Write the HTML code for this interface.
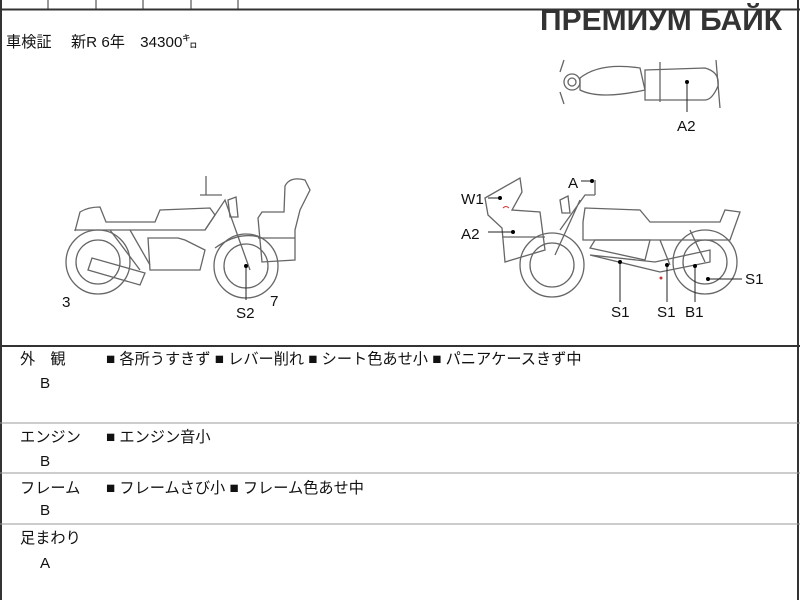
<!DOCTYPE html>
<html><head><meta charset="utf-8"><style>
html,body{margin:0;padding:0;background:#fff;}
body{width:800px;height:600px;position:relative;overflow:hidden;font-family:"Liberation Sans","Noto Sans CJK JP",sans-serif;color:#111;}
.t{position:absolute;font-size:15.2px;white-space:nowrap;line-height:1;}
</style></head><body>
<svg width="800" height="600" style="position:absolute;left:0;top:0" xmlns="http://www.w3.org/2000/svg">
<g stroke="#333" fill="none">
<rect x="1" y="-2" width="797" height="610" stroke-width="2"/>
<line x1="0" y1="9.5" x2="800" y2="9.5" stroke-width="2"/>
<line x1="48" y1="0" x2="48" y2="9"/><line x1="96" y1="0" x2="96" y2="9"/><line x1="143" y1="0" x2="143" y2="9"/><line x1="191" y1="0" x2="191" y2="9"/><line x1="238" y1="0" x2="238" y2="9"/>
<line x1="0" y1="346" x2="800" y2="346" stroke-width="2"/>
<line x1="0" y1="423" x2="800" y2="423" stroke="#999"/>
<line x1="0" y1="473" x2="800" y2="473" stroke="#999"/>
<line x1="0" y1="524" x2="800" y2="524" stroke="#999"/>
</g>
<g stroke="#666" fill="none" stroke-width="1.3">
<circle cx="98" cy="262" r="32"/><circle cx="98" cy="262" r="22"/>
<circle cx="246" cy="266" r="32"/><circle cx="246" cy="266" r="22"/>
<path d="M75 231 L80 212 Q88 207 100 207 L106 222 L155 222 L160 210 L210 208 L215 215 L205 230 L75 230 Z"/>
<path d="M88 270 L140 285 L145 273 L92 258 Z"/>
<path d="M148 238 L150 270 L200 270 L205 250 L185 240 L178 238 Z"/>
<path d="M110 230 L140 270 M130 230 L150 265 M205 230 L225 200 L250 270"/>
<path d="M200 195 L222 195 M206 176 L206 195"/>
<path d="M228 200 L236 197 L238 217 L230 217 Z"/>
<path d="M258 218 L262 212 L284 212 L285 186 Q290 176 305 180 L310 190 L300 210 L295 230 L295 260 L262 262 Z"/>
<line x1="258" y1="238" x2="295" y2="238"/>
<path d="M215 248 Q240 230 262 238"/>
</g>
<line x1="246" y1="266" x2="246" y2="300" stroke="#222"/><circle cx="246" cy="266" r="2" fill="#000"/>
<g stroke="#666" fill="none" stroke-width="1.3">
<path d="M580 78 Q600 62 640 68 L645 90 Q600 100 580 90 Z"/>
<path d="M645 70 L705 68 Q720 72 718 86 Q712 100 705 100 L645 100 Z"/>
<circle cx="572" cy="82" r="8"/><circle cx="572" cy="82" r="4"/>
<path d="M560 72 L564 60 M560 92 L564 104 M716 60 L720 108 M660 62 L660 102"/>
</g>
<line x1="687" y1="82" x2="687" y2="112" stroke="#222"/><circle cx="687" cy="82" r="2" fill="#000"/>
<g stroke="#666" fill="none" stroke-width="1.3">
<circle cx="552" cy="265" r="32"/><circle cx="552" cy="265" r="22"/>
<circle cx="705" cy="262" r="32"/><circle cx="705" cy="262" r="22"/>
<path d="M485 198 L520 178 L522 192 L512 210 L540 212 L545 250 L505 262 L502 228 L488 215 Z"/>
<line x1="502" y1="237" x2="545" y2="237"/>
<path d="M583 222 L585 208 L640 210 L650 222 L720 222 L725 210 L740 212 L730 240 L583 240 Z"/>
<path d="M590 248 L645 260 L650 240 L595 240 Z"/>
<path d="M590 255 L660 272 L710 262 L710 250 L655 262 Z"/>
<path d="M560 230 L585 195 L595 195 M555 255 L580 200 M595 195 L595 180 M660 240 L670 265 M690 230 L705 262"/>
<path d="M560 200 L568 196 L570 213 L562 213 Z"/>
</g>
<g stroke="#222" fill="none">
<line x1="488" y1="198" x2="500" y2="198"/><line x1="488" y1="232" x2="513" y2="232"/>
<line x1="581" y1="181" x2="592" y2="181"/>
<line x1="620" y1="262" x2="620" y2="302"/><line x1="667" y1="265" x2="667" y2="302"/>
<line x1="695" y1="266" x2="695" y2="302"/><line x1="708" y1="279" x2="742" y2="279"/>
</g>
<g fill="#000"><circle cx="500" cy="198" r="2"/><circle cx="513" cy="232" r="2"/><circle cx="592" cy="181" r="2"/><circle cx="620" cy="262" r="2"/><circle cx="667" cy="265" r="2"/><circle cx="695" cy="266" r="2"/><circle cx="708" cy="279" r="2"/></g>
<path d="M503 208 q3 -3 6 0" stroke="#c33" fill="none"/><circle cx="661" cy="278" r="1.5" fill="#c33"/>
</svg>
<div class="t" style="left:540px;top:6px;font-size:30px;font-weight:bold;color:#333">ПРЕМИУМ БАЙК</div>
<div class="t" style="left:6px;top:35px">車検証　 新R 6年　34300㌔</div>
<div class="t" style="left:62px;top:295px">3</div><div class="t" style="left:236px;top:306px">S2</div><div class="t" style="left:270px;top:294px">7</div>
<div class="t" style="left:677px;top:119px">A2</div>
<div class="t" style="left:461px;top:192px">W1</div><div class="t" style="left:461px;top:227px">A2</div><div class="t" style="left:568px;top:176px">A</div>
<div class="t" style="left:611px;top:305px">S1</div><div class="t" style="left:657px;top:305px">S1</div><div class="t" style="left:685px;top:305px">B1</div><div class="t" style="left:745px;top:272px">S1</div>
<div class="t" style="left:20px;top:352px">外　観</div><div class="t" style="left:40px;top:376px">B</div>
<div class="t" style="left:106px;top:352px">■ 各所うすきず ■ レバー削れ ■ シート色あせ小 ■ パニアケースきず中</div>
<div class="t" style="left:20px;top:430px">エンジン</div><div class="t" style="left:40px;top:454px">B</div>
<div class="t" style="left:106px;top:430px">■ エンジン音小</div>
<div class="t" style="left:20px;top:481px">フレーム</div><div class="t" style="left:40px;top:503px">B</div>
<div class="t" style="left:106px;top:481px">■ フレームさび小 ■ フレーム色あせ中</div>
<div class="t" style="left:20px;top:531px">足まわり</div><div class="t" style="left:40px;top:556px">A</div>
</body></html>
